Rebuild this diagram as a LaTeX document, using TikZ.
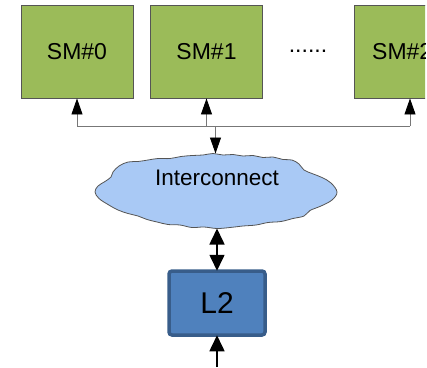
\documentclass[tikz,border=0pt]{standalone}
\usepackage{fontspec}
\setmainfont{Liberation Sans}
\usetikzlibrary{arrows.meta}
\definecolor{smgreen}{HTML}{9BBB59}
\definecolor{smedge}{HTML}{555555}
\definecolor{cloudblue}{HTML}{A9C9F5}
\definecolor{cloudedge}{HTML}{555555}
\definecolor{ltwofill}{HTML}{4F81BD}
\definecolor{ltwoedge}{HTML}{385D8A}
\definecolor{busgray}{HTML}{777777}
\tikzset{
  smbox/.style={draw=smedge, line width=0.9pt, fill=smgreen, minimum width=112pt,
    minimum height=93pt, inner sep=0pt, font=\fontsize{23}{26}\selectfont},
  smtext/.style={inner sep=0pt, font=\fontsize{23}{26}\selectfont},
  bus/.style={draw=busgray, line width=0.9pt},
  bustip/.style={-{Triangle[length=16pt,width=11pt,color=black]}},
  bigtip/.style={draw=black, line width=1.6pt},
  cloudline/.style={draw=cloudedge, line width=0.8pt, fill=cloudblue},
}
\begin{document}
\begin{tikzpicture}[x=1pt,y=-1pt]
\useasboundingbox (0,0) rectangle (427,367);
\clip (0,0) rectangle (425,367);
% streaming multiprocessors
\node[smbox] (sm0) at (77,51.5) {SM\#0};
\node[smbox] (sm1) at (206.5,51.5) {SM\#1};
\node[smbox] (sm2) at (410,51.5) {};
\node[smtext, anchor=west] (sm2t) at (372,51.5) {SM\#2};
\node[smtext] (dots) at (308,51.5) {......};
% interconnect cloud outline
\draw[cloudline] plot[smooth cycle, tension=0.6] coordinates {
  (113,172) (119,166) (128,162) (138,161.5) (148,160) (158,158.5) (170,158.5)
  (181,156.5) (192,155.5) (203,155) (213,153.5) (223,155) (233,154.5) (243,156)
  (253,155.5) (263,157.5) (273,157) (283,159.5) (292,160) (299,164) (304,170)
  (312,173.5) (322,177.5) (331,183) (337,192) (332,200) (321,206) (310,210.5)
  (304,216) (293,218.5) (281,221.5) (268,222.5) (256,225) (243,226) (230,227.5)
  (217,228.5) (204,227) (192,227.5) (180,225) (168,224.5) (157,222) (147,219.5)
  (138,216) (128,213.5) (118,210) (108,204.5) (99,198.5) (95,192) (98,186)
  (105,181.5) (111,177)};
\node[font=\fontsize{22.5}{26}\selectfont, inner sep=0pt] (ic) at (217,178) {Interconnect};
% L2 cache
\node[draw=ltwoedge, line width=3.5pt, fill=ltwofill, rounded corners=3pt,
  minimum width=96pt, minimum height=64pt, inner sep=0pt,
  font=\fontsize{30}{34}\selectfont] (l2) at (217,303) {L2};
% bus between SMs and interconnect
\coordinate (b0) at (77,126);
\coordinate (b1) at (206.5,126);
\coordinate (b2) at (410,126);
\coordinate (bm) at (215.5,126);
\coordinate (ictopin) at (215.5,153.5);
\draw[bus] (b0) -- (b2);
\draw[bus,bustip] (b0) -- (sm0.south);
\draw[bus,bustip] (b1) -- (sm1.south);
\draw[bus,bustip] (b2) -- (sm2.south);
\draw[bus,bustip] (bm) -- (ictopin);
% interconnect to L2 and below
\coordinate (icbot) at (217,228.5);
\coordinate (feed) at (217,367);
\draw[bigtip,{Triangle[length=16pt,width=15pt]}-{Triangle[length=16pt,width=15pt]}] (icbot) -- ([yshift=-1.5pt]l2.north);
\draw[bigtip,-{Triangle[length=16pt,width=15pt]}] (feed) -- ([yshift=1.5pt]l2.south);
\end{tikzpicture}
\end{document}
